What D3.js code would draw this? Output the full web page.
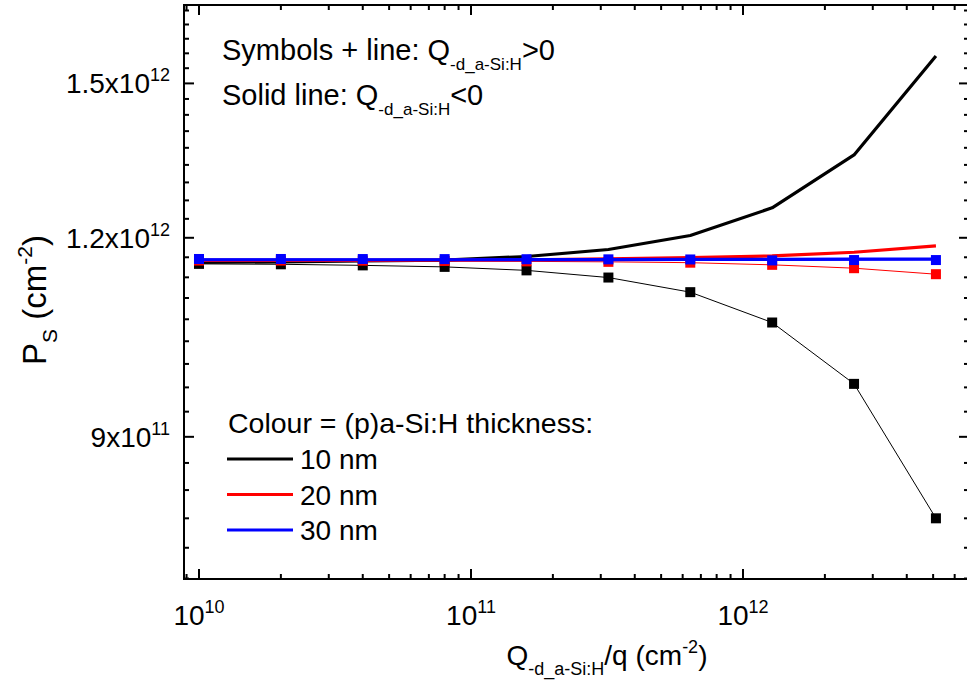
<!DOCTYPE html>
<html>
<head>
<meta charset="utf-8">
<script src="https://cdn.jsdelivr.net/npm/d3@7"></script>
<style>
  html, body { margin: 0; padding: 0; background: #fff; }
  svg { display: block; }
  text { font-family: "Liberation Sans", Arial, sans-serif; fill: #000; }
</style>
</head>
<body>
<svg id="chart" width="967" height="680"></svg>
<script>
// ---------------- DATA ----------------
const qValues = [1e10, 2e10, 4e10, 8e10, 1.6e11, 3.2e11, 6.4e11, 1.28e12, 2.56e12, 5.12e12];

// Solid lines: Q_-d_a-Si:H < 0
const ps10nmNeg = [1.158e12, 1.159e12, 1.1607e12, 1.162e12, 1.168e12, 1.1799e12, 1.2039e12, 1.2531e12, 1.3527e12, 1.5608e12];
const ps20nmNeg = [1.1615e12, 1.1615e12, 1.1615e12, 1.1618e12, 1.1625e12, 1.164e12, 1.166e12, 1.1689e12, 1.1752e12, 1.1859e12];
const ps30nmNeg = [1.1625e12, 1.1625e12, 1.1625e12, 1.1625e12, 1.1627e12, 1.1628e12, 1.163e12, 1.1632e12, 1.1635e12, 1.1638e12];

// Symbols + line: Q_-d_a-Si:H > 0
const ps10nmPos = [1.1556e12, 1.1549e12, 1.1531e12, 1.1506e12, 1.1448e12, 1.133e12, 1.1093e12, 1.0617e12, 9.716e11, 8.0e11];
const ps20nmPos = [1.1612e12, 1.1611e12, 1.161e12, 1.1605e12, 1.1598e12, 1.159e12, 1.1576e12, 1.154e12, 1.1484e12, 1.1385e12];
const ps30nmPos = [1.1638e12, 1.1638e12, 1.1637e12, 1.1636e12, 1.1634e12, 1.1632e12, 1.163e12, 1.1614e12, 1.162e12, 1.162e12];

const seriesNames = ["10 nm", "20 nm", "30 nm"];
const seriesColors = ["#000000", "#ff0000", "#0000ff"];

// Axis limits and ticks
const xLimits = [8.808e9, 6.774e12];
const yLimits = [7.3282e11, 1.68e12];
const xMajorTicks = [1e10, 1e11, 1e12];
const xTickExponents = ["10", "11", "12"];
const yMajorTicks = [9e11, 1.2e12, 1.5e12];
const yTickMantissas = ["9x10", "1.2x10", "1.5x10"];
const yTickExponents = ["11", "12", "12"];
const yMinorStep = 1e11 / 3;

// ---------------- LAYOUT ----------------
const plot = { left: 184, right: 969, top: 5, bottom: 579 };
const svg = d3.select("#chart");

const x = d3.scaleLog().domain(xLimits).range([plot.left, plot.right]);
const y = d3.scaleLog().domain(yLimits).range([plot.bottom, plot.top]);

const FS = 27, SFS = 17;

function richText(parent, px, py, parts, opts = {}) {
  const t = parent.append("text")
    .attr("x", px).attr("y", py)
    .attr("text-anchor", opts.anchor || "start")
    .attr("font-size", opts.size || FS);
  if (opts.transform) t.attr("transform", opts.transform);
  let shift = 0;
  parts.forEach(p => {
    const ts = t.append("tspan").text(p.t);
    let target = 0;
    if (p.k === "sub") { target = opts.subShift || 9; ts.attr("font-size", opts.small || SFS); }
    else if (p.k === "sup") { target = -(opts.supShift || 12); ts.attr("font-size", opts.small || SFS); }
    const dy = target - shift;
    if (dy !== 0) ts.attr("dy", dy);
    shift = target;
  });
  return t;
}

// ---------------- SERIES ----------------
const line = d3.line().x((d, i) => x(qValues[i])).y(d => y(d));
const g = svg.append("g");

function symbolSeries(vals, color) {
  g.append("path").attr("d", line(vals)).attr("fill", "none")
    .attr("stroke", color).attr("stroke-width", 1);
  const s = 10;
  g.selectAll(null).data(vals).enter().append("rect")
    .attr("x", (d, i) => x(qValues[i]) - s / 2)
    .attr("y", d => y(d) - s / 2)
    .attr("width", s).attr("height", s)
    .attr("fill", color);
}
function solidSeries(vals, color) {
  g.append("path").attr("d", line(vals)).attr("fill", "none")
    .attr("stroke", color).attr("stroke-width", 3.2).attr("stroke-linejoin", "round");
}

symbolSeries(ps10nmPos, seriesColors[0]);
symbolSeries(ps20nmPos, seriesColors[1]);
solidSeries(ps10nmNeg, seriesColors[0]);
solidSeries(ps20nmNeg, seriesColors[1]);
symbolSeries(ps30nmPos, seriesColors[2]);
solidSeries(ps30nmNeg, seriesColors[2]);

// ---------------- AXES ----------------
const ax = svg.append("g").attr("stroke", "#000").attr("stroke-width", 2);
ax.append("rect").attr("x", plot.left).attr("y", plot.top)
  .attr("width", plot.right - plot.left).attr("height", plot.bottom - plot.top)
  .attr("fill", "none");

const MAJ = 10, MIN = 5;
// X ticks
const xMinor = [];
for (let e = 9; e <= 12; e++) for (let m = 2; m <= 9; m++) {
  const v = m * Math.pow(10, e);
  if (v > xLimits[0] && v < xLimits[1]) xMinor.push(v);
}
[[xMajorTicks, MAJ], [xMinor, MIN]].forEach(([vals, len]) => {
  vals.forEach(v => {
    const px = x(v);
    ax.append("line").attr("x1", px).attr("x2", px).attr("y1", plot.bottom).attr("y2", plot.bottom - len);
    ax.append("line").attr("x1", px).attr("x2", px).attr("y1", plot.top).attr("y2", plot.top + len);
  });
});
// Y ticks
const yMinor = [];
for (let k = Math.ceil(yLimits[0] / yMinorStep); k * yMinorStep < yLimits[1]; k++) {
  const v = k * yMinorStep;
  if (!yMajorTicks.some(m => Math.abs(m - v) < 1e9)) yMinor.push(v);
}
[[yMajorTicks, MAJ], [yMinor, MIN]].forEach(([vals, len]) => {
  vals.forEach(v => {
    const py = y(v);
    ax.append("line").attr("x1", plot.left).attr("x2", plot.left + len).attr("y1", py).attr("y2", py);
    ax.append("line").attr("x1", plot.right).attr("x2", plot.right - len).attr("y1", py).attr("y2", py);
  });
});

// Tick labels
xMajorTicks.forEach((v, i) => {
  richText(svg, x(v), 625, [{ t: "10" }, { t: xTickExponents[i], k: "sup" }], { anchor: "middle", size: 28, small: 18 });
});
yMajorTicks.forEach((v, i) => {
  richText(svg, 170, y(v) + 10, [{ t: yTickMantissas[i] }, { t: yTickExponents[i], k: "sup" }], { anchor: "end", size: 28, small: 18 });
});

// Axis titles
richText(svg, 607, 665, [{ t: "Q" }, { t: "-d_a-Si:H", k: "sub" }, { t: "/q (cm" }, { t: "-2", k: "sup" }, { t: ")" }],
  { anchor: "middle", size: 28, small: 18, subShift: 10, supShift: 12 });
richText(svg, 0, 0, [{ t: "P" }, { t: "S", k: "sub" }, { t: " (cm" }, { t: "-2", k: "sup" }, { t: ")" }],
  { anchor: "middle", size: 33, small: 21, subShift: 11, supShift: 14, transform: "translate(46,300) rotate(-90)" });

// Annotations
richText(svg, 222, 60, [{ t: "Symbols + line: Q" }, { t: "-d_a-Si:H", k: "sub" }, { t: ">0" }], { size: 29, subShift: 10 });
richText(svg, 222, 105, [{ t: "Solid line: Q" }, { t: "-d_a-Si:H", k: "sub" }, { t: "<0" }], { size: 29, subShift: 10 });

// Legend
svg.append("text").attr("x", 228).attr("y", 433).attr("font-size", 28.5).text("Colour = (p)a-Si:H thickness:");
const legY = [459, 494.5, 530];
seriesNames.forEach((n, i) => {
  svg.append("line").attr("x1", 227).attr("x2", 293).attr("y1", legY[i]).attr("y2", legY[i])
    .attr("stroke", seriesColors[i]).attr("stroke-width", 3.2);
  svg.append("text").attr("x", 300).attr("y", legY[i] + 10).attr("font-size", 28).text(n);
});
</script>
</body>
</html>
